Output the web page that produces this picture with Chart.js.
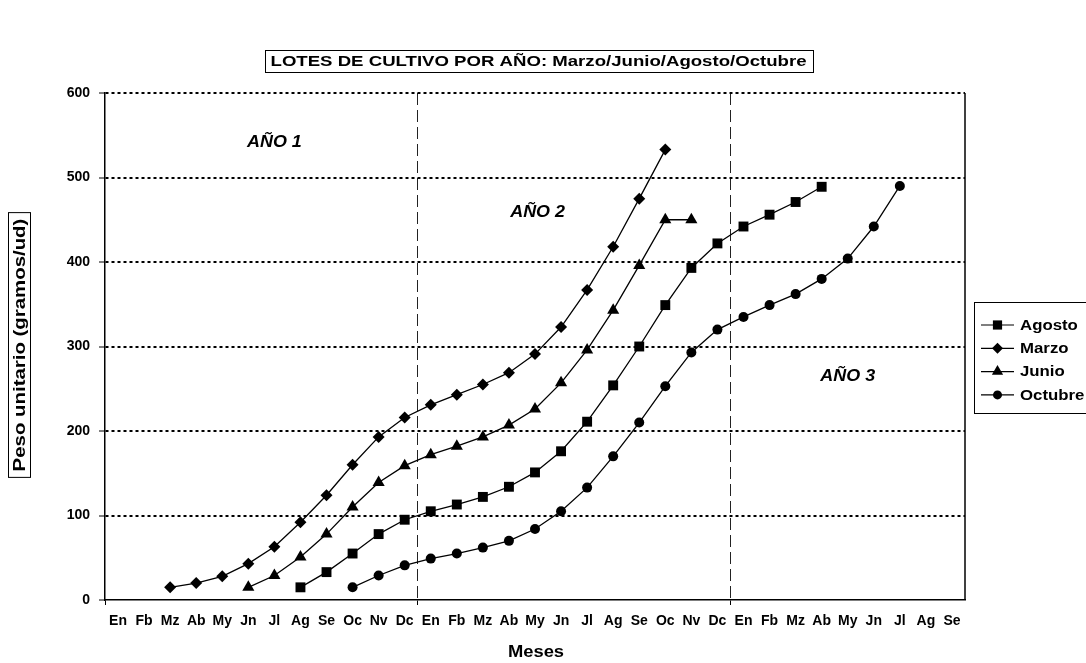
<!DOCTYPE html>
<html>
<head>
<meta charset="utf-8">
<script src="https://cdn.jsdelivr.net/npm/chart.js@4.4.1/dist/chart.umd.min.js"></script>
<style>
  html, body { margin: 0; padding: 0; background: #fff; }
  #wrap { width: 1086px; height: 663px; }
</style>
</head>
<body>
<div id="wrap"><canvas id="lotesChart" width="1086" height="663"></canvas></div>
<script>
// months of the 3 years, Jan Y1 .. Sep Y3
const months = [
  'En', 'Fb', 'Mz', 'Ab', 'My', 'Jn', 'Jl', 'Ag', 'Se', 'Oc', 'Nv', 'Dc',
  'En', 'Fb', 'Mz', 'Ab', 'My', 'Jn', 'Jl', 'Ag', 'Se', 'Oc', 'Nv', 'Dc',
  'En', 'Fb', 'Mz', 'Ab', 'My', 'Jn', 'Jl', 'Ag', 'Se'
];

const _ = null;
const agosto = [_, _, _, _, _, _, _, 15, 33, 55, 78, 95,
  105, 113, 122, 134, 151, 176, 211, 254, 300, 349, 393, 422,
  442, 456, 471, 489, _, _, _, _, _];
const marzo = [_, _, 15, 20, 28, 43, 63, 92, 124, 160, 193, 216,
  231, 243, 255, 269, 291, 323, 367, 418, 475, 533, _, _,
  _, _, _, _, _, _, _, _, _];
const junio = [_, _, _, _, _, 15, 29, 51, 78, 110, 139, 159,
  172, 182, 193, 207, 226, 257, 296, 343, 396, 450, 450, _,
  _, _, _, _, _, _, _, _, _];
const octubre = [_, _, _, _, _, _, _, _, _, 15, 29, 41,
  49, 55, 62, 70, 84, 105, 133, 170, 210, 253, 293, 320,
  335, 349, 362, 380, 404, 442, 490, _, _];

const yTicks = [0, 100, 200, 300, 400, 500, 600];

const seriesNames = ['Agosto', 'Marzo', 'Junio', 'Octubre'];
const seriesMarkers = ['rect', 'rectRot', 'triangle', 'circle'];
const markerRadius = { rect: 7, rectRot: 6, triangle: 7, circle: 5 };

// "AÑO n" labels placed in data units (category index, value)
const yearLabels = [
  { text: 'AÑO 1', x: 6, y: 541 },
  { text: 'AÑO 2', x: 16.1, y: 458 },
  { text: 'AÑO 3', x: 28, y: 264 }
];

const FONT = '"Liberation Sans", Arial, Helvetica, sans-serif';
const yearBreaks = [0, 12, 24];

function drawMarker(ctx, style, x, y, r) {
  ctx.beginPath();
  if (style === 'rect') {
    const s = Math.SQRT1_2 * r;
    ctx.rect(x - s, y - s, 2 * s, 2 * s);
  } else if (style === 'rectRot') {
    ctx.moveTo(x - r, y); ctx.lineTo(x, y - r); ctx.lineTo(x + r, y); ctx.lineTo(x, y + r);
    ctx.closePath();
  } else if (style === 'triangle') {
    ctx.moveTo(x, y - r);
    ctx.lineTo(x + r * Math.sin(2 * Math.PI / 3), y - r * Math.cos(2 * Math.PI / 3));
    ctx.lineTo(x + r * Math.sin(4 * Math.PI / 3), y - r * Math.cos(4 * Math.PI / 3));
    ctx.closePath();
  } else {
    ctx.arc(x, y, r, 0, Math.PI * 2);
  }
  ctx.fill();
}

// text drawn a bit wider than the font, like the original export
function wideText(ctx, text, x, y, sx) {
  ctx.save();
  ctx.translate(x, y);
  ctx.scale(sx, 1);
  ctx.fillText(text, 0, 0);
  ctx.restore();
  return ctx.measureText(text).width * sx;
}

const decorations = {
  id: 'decorations',
  afterDraw(chart) {
    const ctx = chart.ctx;
    const area = chart.chartArea;
    const xs = chart.scales.x;
    const ys = chart.scales.y;
    ctx.save();
    ctx.fillStyle = '#000';
    ctx.strokeStyle = '#000';

    // right border of the plot
    ctx.lineWidth = 1.5;
    ctx.beginPath();
    ctx.moveTo(area.right, area.top);
    ctx.lineTo(area.right, area.bottom);
    ctx.stroke();

    // boxed title
    ctx.font = 'bold 15px ' + FONT;
    ctx.textAlign = 'center';
    ctx.textBaseline = 'middle';
    const title = 'LOTES DE CULTIVO POR AÑO: Marzo/Junio/Agosto/Octubre';
    const tw = wideText(ctx, title, 538.5, 61.5, 1.24);
    ctx.lineWidth = 1;
    ctx.strokeRect(Math.round(538.5 - tw / 2 - 6) + 0.5, 50.5, Math.round(tw + 12), 22);

    // boxed y title
    ctx.save();
    ctx.translate(19.5, 345);
    ctx.rotate(-Math.PI / 2);
    ctx.font = 'bold 17px ' + FONT;
    const yw = wideText(ctx, 'Peso unitario (gramos/ud)', 0, 1, 1.2);
    ctx.strokeRect(-yw / 2 - 6, -11, yw + 12, 22);
    ctx.restore();

    // x title
    ctx.font = 'bold 17px ' + FONT;
    wideText(ctx, 'Meses', 536, 652, 1.08);

    // year labels
    ctx.font = 'italic bold 16px ' + FONT;
    yearLabels.forEach(l => {
      wideText(ctx, l.text, xs.getPixelForValue(l.x), ys.getPixelForValue(l.y), 1.12);
    });

    // legend
    ctx.lineWidth = 1;
    ctx.strokeRect(974.5, 302.5, 130, 111);
    ctx.font = 'bold 14px ' + FONT;
    ctx.textAlign = 'left';
    seriesNames.forEach((name, i) => {
      const y = 325 + i * 23.3;
      ctx.lineWidth = 1.2;
      ctx.beginPath();
      ctx.moveTo(981, y);
      ctx.lineTo(1014, y);
      ctx.stroke();
      drawMarker(ctx, seriesMarkers[i], 997.5, y, markerRadius[seriesMarkers[i]] - 0.5);
      wideText(ctx, name, 1020, y + 1, 1.2);
    });
    ctx.restore();
  }
};

const seriesData = [agosto, marzo, junio, octubre];

new Chart(document.getElementById('lotesChart'), {
  type: 'line',
  data: {
    labels: months,
    datasets: seriesNames.map((name, i) => ({
      label: name,
      data: seriesData[i],
      borderColor: '#000',
      borderWidth: 1.3,
      backgroundColor: '#000',
      pointStyle: seriesMarkers[i],
      pointRadius: markerRadius[seriesMarkers[i]],
      pointBackgroundColor: '#000',
      pointBorderColor: '#000',
      pointBorderWidth: 0,
      tension: 0,
      fill: false
    }))
  },
  options: {
    responsive: false,
    animation: false,
    layout: { padding: { left: 0, right: 121, top: 93, bottom: 0 } },
    plugins: {
      legend: { display: false },
      title: { display: false },
      tooltip: { enabled: false }
    },
    scales: {
      x: {
        offset: true,
        afterFit: (scale) => { scale.height = 63; },
        grid: {
          offset: true,
          drawOnChartArea: true,
          color: (c) => (c.index === 12 || c.index === 24) ? '#222' : 'rgba(0,0,0,0)',
          lineWidth: 1,
          tickColor: (c) => yearBreaks.includes(c.index) ? '#000' : 'rgba(0,0,0,0)',
          tickLength: 5,
          tickWidth: 1
        },
        border: { color: '#000', width: 1.5, dash: [12, 5] },
        ticks: {
          autoSkip: false,
          maxRotation: 0,
          color: '#000',
          padding: 8,
          font: { family: FONT, size: 14, weight: 'bold' }
        }
      },
      y: {
        min: 0,
        max: 600,
        afterFit: (scale) => { scale.width = 105; },
        afterBuildTicks: (scale) => { scale.ticks = yTicks.map(v => ({ value: v })); },
        grid: {
          color: (c) => c.index === 0 ? 'rgba(0,0,0,0)' : '#000',
          lineWidth: 2,
          tickColor: '#000',
          tickLength: 6,
          tickWidth: 1
        },
        border: { color: '#000', width: 1.5, dash: [3, 3] },
        ticks: {
          color: '#000',
          padding: 9,
          font: { family: FONT, size: 14, weight: 'bold' }
        }
      }
    }
  },
  plugins: [decorations]
});
</script>
</body>
</html>
